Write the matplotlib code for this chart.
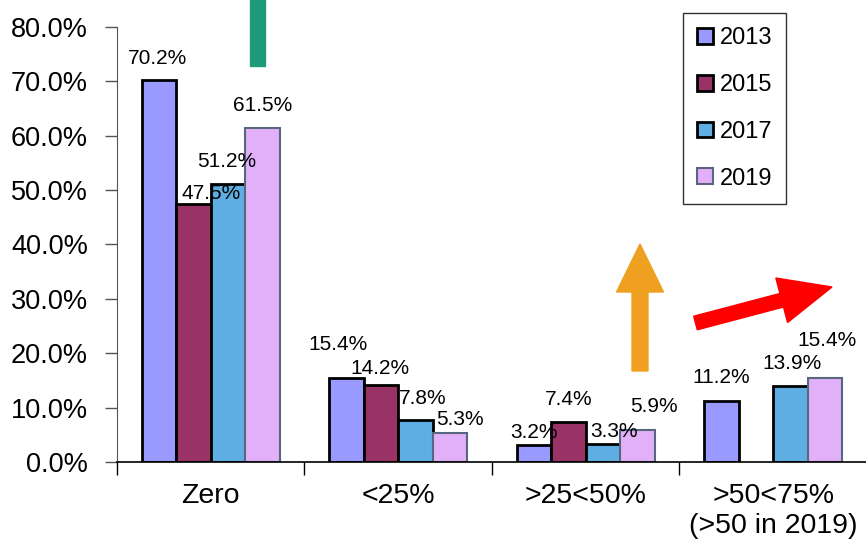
import numpy as np
import matplotlib
matplotlib.use("Agg")
import matplotlib.pyplot as plt
from matplotlib.patches import FancyArrow, Rectangle
from matplotlib.ticker import FuncFormatter, FixedLocator

plt.rcParams['font.family'] = ['Liberation Sans', 'DejaVu Sans']

# data
categories = ['Zero', '<25%', '>25<50%', '>50<75%\n(>50 in 2019)']
years = ['2013', '2015', '2017', '2019']
v2013 = [70.2, 15.4, 3.2, 11.2]
v2015 = [47.5, 14.2, 7.4, np.nan]
v2017 = [51.2, 7.8, 3.3, 13.9]
v2019 = [61.5, 5.3, 5.9, 15.4]
series = [v2013, v2015, v2017, v2019]

colors = ['#9999FF', '#993366', '#5FAEE3', '#E2B0F8']
edges = ['black', 'black', 'black', '#58677D']
edge_w = [2.0, 2.0, 2.0, 1.5]

# label nudges (points) per category, per year - Excel shuffled some to avoid overlaps
nudge = [
    [(-1, 16), (13, 7), (-1, 16), (0, 16)],
    [(-6, 24), (-1, 12), (5, 15), (7, 10)],
    [(0, 9), (0, 16), (8, 9), (12, 17)],
    [(0, 17), (0, 0), (1, 16.5), (1.5, 27)],
]

fig = plt.figure(figsize=(8.66, 5.43), dpi=100)
ax = fig.add_axes([0.1351, 0.1492, 0.866, 0.8011])

x = np.arange(len(categories))
w = 0.184
for i, vals in enumerate(series):
    xs = x + (i - 1.5) * w
    vals = np.array(vals, dtype=float) / 100
    ax.bar(xs, vals, width=w, color=colors[i], edgecolor=edges[i],
           linewidth=edge_w[i], label=years[i], zorder=3)
    for j, v in enumerate(vals):
        if np.isnan(v):
            continue
        dx, dy = nudge[j][i]
        ax.annotate(f'{v:.1%}', (xs[j], v), xytext=(dx, dy),
                    textcoords='offset points', ha='center', va='center',
                    fontsize=15, zorder=5)

ax.set_xlim(-0.5, 3.5)
ax.set_ylim(0, 0.8)
ax.set_yticks(np.arange(0, 0.81, 0.1))
ax.yaxis.set_major_formatter(FuncFormatter(lambda v, p: f'{v:.1%}'))
ax.set_xticks(x)
ax.set_xticklabels(categories, fontsize=20.5)
ax.xaxis.set_minor_locator(FixedLocator(np.arange(-0.5, 4, 1)))
ax.tick_params(axis='x', which='major', length=0, pad=15)
ax.tick_params(axis='x', which='minor', length=9, width=1, color='black', direction='out')
ax.tick_params(axis='y', labelsize=19.5, length=9, width=1, color='#555555', pad=12)

for s in ['top', 'right']:
    ax.spines[s].set_visible(False)
ax.spines['left'].set_color('#555555')
ax.spines['bottom'].set_color('black')
ax.spines['bottom'].set_linewidth(1.2)
ax.spines['bottom'].set_zorder(4)

leg = ax.legend(loc='upper left', bbox_to_anchor=(683 / 866, 1 - 13 / 543),
                bbox_transform=fig.transFigure, frameon=True, fancybox=False,
                fontsize=17, handlelength=0.65, handleheight=0.65,
                handletextpad=0.3, labelspacing=1.05, borderpad=0.6,
                borderaxespad=0)
leg.get_frame().set_edgecolor('black')
leg.get_frame().set_linewidth(1)

# decorative arrows, in inches from the figure's bottom-left
H = 5.43
fig.add_artist(Rectangle((2.50, H - 0.66), 0.15, 0.70, color='#1E9B78',
                         transform=fig.dpi_scale_trans))
fig.add_artist(FancyArrow(6.40, H - 3.71, 0, 3.71 - 2.44, width=0.16,
                          head_width=0.47, head_length=0.48, color='#F0A020',
                          length_includes_head=True, transform=fig.dpi_scale_trans))
fig.add_artist(FancyArrow(6.955, H - 3.23, 8.32 - 6.955, 3.23 - 2.87, width=0.14,
                          head_width=0.46, head_length=0.52, color='#FF0000',
                          length_includes_head=True, transform=fig.dpi_scale_trans))

fig.savefig('out.png', dpi=100)
